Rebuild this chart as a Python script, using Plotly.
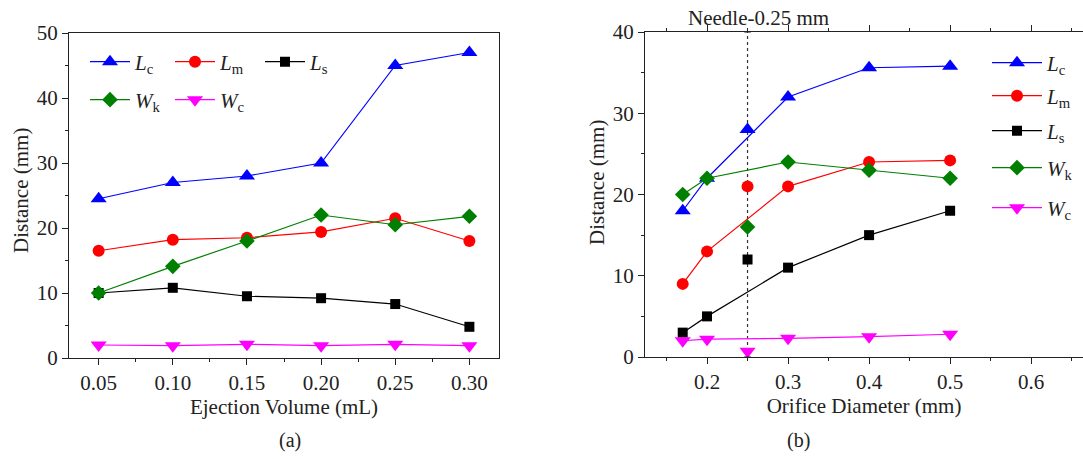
import plotly.graph_objects as go

# ---------- data: panel (a) ----------
vol = [0.05, 0.10, 0.15, 0.20, 0.25, 0.30]
a_Lc = [24.5, 27.0, 28.0, 30.0, 45.0, 47.0]
a_Lm = [16.5, 18.2, 18.5, 19.4, 21.5, 18.0]
a_Ls = [10.0, 10.8, 9.5, 9.2, 8.3, 4.8]
a_Wk = [10.0, 14.1, 18.0, 22.0, 20.5, 21.8]
a_Wc = [2.0, 1.9, 2.1, 1.9, 2.1, 1.9]

# ---------- data: panel (b) ----------
orifice = [0.17, 0.20, 0.30, 0.40, 0.50]
b_Lc = [18.0, 22.0, 32.0, 35.6, 35.8]
b_Lm = [9.0, 13.0, 21.0, 24.0, 24.2]
b_Ls = [3.0, 5.0, 11.0, 15.0, 18.0]
b_Wk = [20.0, 22.0, 24.0, 23.0, 22.0]
b_Wc = [2.0, 2.2, 2.3, 2.5, 2.8]

needle_x = [0.25]
needle_Lc = [28.0]
needle_Lm = [21.0]
needle_Ls = [12.0]
needle_Wk = [16.0]
needle_Wc = [0.7]
needle_span = [0, 40]
needle_label = "Needle-0.25 mm"

names = ["<i>L</i><sub>c</sub>", "<i>L</i><sub>m</sub>", "<i>L</i><sub>s</sub>",
         "<i>W</i><sub>k</sub>", "<i>W</i><sub>c</sub>"]
colors = ["#0000FF", "#FF0000", "#000000", "#008000", "#FF00FF"]
symbols = ["triangle-up", "circle", "square", "diamond", "triangle-down"]
msizes = [14, 12, 10, 12, 14]

FONT = "Liberation Serif"
TXT = "#222222"
fig = go.Figure()

# panel (a): one legend per entry so the 3+2 layout is exact
a_series = [a_Lc, a_Lm, a_Ls, a_Wk, a_Wc]
a_leg_ids = ["legend", "legend2", "legend3", "legend4", "legend5"]
for i, ys in enumerate(a_series):
    fig.add_trace(go.Scatter(
        x=vol, y=ys, name=names[i], mode="lines+markers",
        line=dict(color=colors[i], width=1.2),
        marker=dict(symbol=symbols[i], size=msizes[i], color=colors[i]),
        xaxis="x", yaxis="y", legend=a_leg_ids[i]))

b_series = [b_Lc, b_Lm, b_Ls, b_Wk, b_Wc]
n_series = [needle_Lc, needle_Lm, needle_Ls, needle_Wk, needle_Wc]
b_leg_ids = ["legend6", "legend7", "legend8", "legend9", "legend10"]
for i, ys in enumerate(b_series):
    fig.add_trace(go.Scatter(
        x=orifice, y=ys, name=names[i], mode="lines+markers",
        line=dict(color=colors[i], width=1.2),
        marker=dict(symbol=symbols[i], size=msizes[i], color=colors[i]),
        xaxis="x2", yaxis="y2", legend=b_leg_ids[i]))
for i, ys in enumerate(n_series):
    fig.add_trace(go.Scatter(
        x=needle_x, y=ys, name=names[i], mode="markers", showlegend=False,
        marker=dict(symbol=symbols[i], size=msizes[i], color=colors[i]),
        xaxis="x2", yaxis="y2"))

# needle reference line
fig.add_shape(type="line", xref="x2", yref="y2", x0=needle_x[0], x1=needle_x[0],
              y0=needle_span[0], y1=needle_span[1],
              line=dict(color="#333333", width=1.2, dash="dot"), layer="below")
for yv in needle_span:
    fig.add_shape(type="line", xref="x2", yref="y2", x0=needle_x[0] - 0.004, x1=needle_x[0] + 0.004,
                  y0=yv, y1=yv, line=dict(color="#333333", width=1.2))

fig.add_annotation(x=needle_x[0], xref="x2", y=1 - 18 / 459, yref="paper", text=needle_label,
                   showarrow=False, xshift=11, font=dict(family=FONT, size=21, color=TXT),
                   yanchor="middle")

fig.add_annotation(x=277 / 1083, y=1 - 440 / 459, xref="paper", yref="paper", text="(a)",
                   showarrow=False, yanchor="middle",
                   font=dict(family=FONT, size=20, color=TXT))
fig.add_annotation(x=812 / 1083, y=1 - 440 / 459, xref="paper", yref="paper", text="(b)",
                   showarrow=False, yanchor="middle",
                   font=dict(family=FONT, size=20, color=TXT))

# y-axis titles
fig.add_annotation(x=21 / 1083, y=1 - 191 / 459, xref="paper", yref="paper",
                   text="Distance (mm)", textangle=-90, showarrow=False,
                   xanchor="center", yanchor="middle",
                   font=dict(family=FONT, size=21, color=TXT))
fig.add_annotation(x=597 / 1083, y=1 - 183 / 459, xref="paper", yref="paper",
                   text="Distance (mm)", textangle=-90, showarrow=False,
                   xanchor="center", yanchor="middle",
                   font=dict(family=FONT, size=21, color=TXT))

axis_common = dict(showline=True, linecolor=TXT, linewidth=1.2, showgrid=False,
                   zeroline=False, ticks="outside", ticklen=6, tickwidth=1.2, tickcolor=TXT,
                   automargin=True,
                   tickfont=dict(family=FONT, size=21, color=TXT))

def leg(xpx, ypx, width):
    return dict(x=(xpx - 8) / 1083, y=1 - ypx / 459, xanchor="left", yanchor="middle",
                xref="container", yref="container",
                orientation="v", bgcolor="rgba(0,0,0,0)", itemwidth=width,
                font=dict(family=FONT, size=21, color=TXT))

legends = {}
a_pos = [(93, 62), (178, 62), (268, 62), (93, 100), (178, 100)]
for lid, (px, py) in zip(a_leg_ids, a_pos):
    legends[lid] = leg(px, py, 40)
b_pos = [(995, 63), (995, 96), (995, 131), (995, 168), (995, 208)]
for lid, (px, py) in zip(b_leg_ids, b_pos):
    legends[lid] = leg(px, py, 50)

fig.update_layout(
    width=1083, height=459, margin=dict(l=0, r=0, t=0, b=0, pad=0, autoexpand=False),
    paper_bgcolor="white", plot_bgcolor="white",
    font=dict(family=FONT, color=TXT),
    xaxis=dict(domain=[0.0637, 0.4608], range=[0.03, 0.32], tickvals=vol,
               ticktext=["%.2f" % v for v in vol], mirror=True,
               minor=dict(ticks="outside", dtick=0.05, tick0=0.025, ticklen=3, tickcolor=TXT),
               title=dict(text="Ejection Volume (mL)", font=dict(family=FONT, size=21), standoff=4),
               anchor="y", **axis_common),
    yaxis=dict(domain=[1 - 358 / 459, 1 - 33 / 459], range=[0, 50], dtick=10, mirror=True,
               minor=dict(ticks="outside", dtick=5, ticklen=3, tickcolor=TXT),
               anchor="x", **axis_common),
    xaxis2=dict(domain=[0.5956, 1.0], range=[0.1235, 0.664], dtick=0.1, tick0=0,
                mirror="ticks",
                minor=dict(ticks="outside", dtick=0.05, tick0=0.05, ticklen=3, tickcolor=TXT),
                title=dict(text="Orifice Diameter (mm)", font=dict(family=FONT, size=21), standoff=4),
                anchor="y2", **axis_common),
    yaxis2=dict(domain=[1 - 357 / 459, 1 - 32 / 459], range=[0, 40], dtick=10, mirror=False,
                minor=dict(ticks="outside", dtick=5, ticklen=3, tickcolor=TXT),
                anchor="x2", **axis_common),
    **legends,
)

fig.write_html("out.html")
